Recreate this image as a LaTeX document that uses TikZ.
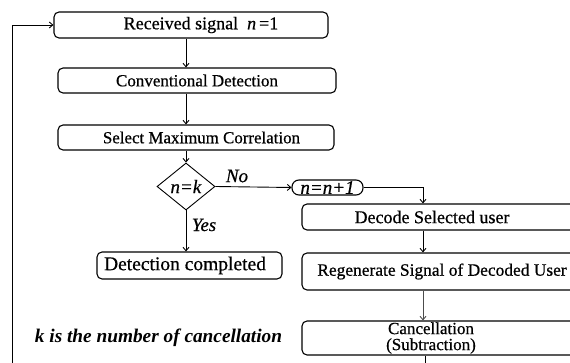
\documentclass[tikz,border=0pt]{standalone}
\usepackage{fontspec}
\setmainfont{Liberation Serif}[
  UprightFont={Liberation Serif},
  ItalicFont={Liberation Serif Italic},
  BoldFont={Liberation Serif Bold},
  BoldItalicFont={Liberation Serif Bold Italic},
  UprightFeatures={FakeBold=0.6},
  ItalicFeatures={FakeBold=0.6}]
\usetikzlibrary{arrows.meta,shapes.geometric}
\begin{document}
\begin{tikzpicture}[x=1pt,y=-1pt,
  box/.style={draw, line width=1.1pt, rounded corners=5pt, inner sep=0pt},
  txt/.style={inner sep=0pt},
  flow/.style={draw, line width=0.9pt, -{Straight Barb[length=3.5pt,width=6pt]}},
  thinflow/.style={draw=black!70, line width=0.9pt, -{Straight Barb[length=3.5pt,width=6pt]}},
  fs/.style={font=\fontsize{#1}{#1}\selectfont}]
\useasboundingbox (0,0) rectangle (570,363);
\clip (0,0) rectangle (570,363);

% left-hand column
\node[box, minimum width=274pt, minimum height=26pt, fs=18] (recv) at (191,25)
  {\hspace*{20pt}Received signal\ \ \textit{n}\,=1};
\node[box, minimum width=278pt, minimum height=25pt, fs=17] (conv) at (197,80.5)
  {Conventional Detection};
\node[box, minimum width=276pt, minimum height=25pt, fs=16.9] (sel) at (196,137.5)
  {\hspace*{11pt}Select Maximum Correlation};
\node[draw, line width=0.9pt, diamond, minimum width=58pt, minimum height=47pt,
  inner sep=0pt, fs=19] (dia) at (186,186.5) {\textit{n=k}};
\node[box, minimum width=185pt, minimum height=27pt, fs=19.5] (det) at (189.5,265.5)
  {Detection completed\hspace*{9pt}};

% right-hand column (boxes run past the right edge)
\node[box, rounded corners=7pt, minimum width=71pt, minimum height=15pt, fs=19] (inc)
  at (327.5,187.5) {\textit{n=n+1}};
\node[box, minimum width=288pt, minimum height=26pt] (dec) at (446,217) {};
\node[txt, fs=18] (dect) at (432,217) {Decode Selected user};
\node[box, minimum width=288pt, minimum height=37pt] (reg) at (446,271.5) {};
\node[txt, fs=17.4] (regt) at (442,271.5) {Regenerate Signal of Decoded User};
\node[box, minimum width=288pt, minimum height=34pt] (can) at (446,338) {};
\node[txt, fs=17, align=center] (cant) at (431,338)
  {Cancellation\\[-1pt](Subtraction)};

% free text
\node[txt, fs=19] (no) at (237,176) {\textit{No}};
\node[txt, fs=18.7] (yes) at (204,225) {\textit{Yes}};
\node[txt, fs=19.3] (note) at (158.5,338) {\textbf{\textit{k is the number of cancellation}}};

% helper points
\coordinate (colx) at (423,0);
\coordinate (loopr) at (425,370);
\coordinate (loopl) at (12,370);

% connectors
\draw[flow] (recv.south -| dia.north) -- (conv.north -| dia.north);
\draw[flow] (conv.south -| dia.north) -- (sel.north -| dia.north);
\draw[flow] (sel.south -| dia.north) -- (dia.north);
\draw[flow] (dia.south) -- (det.north -| dia.south);
\draw[flow] (dia.east) -- (inc.west);
\draw[flow] (inc.east) -| (dec.north -| colx);
\draw[flow] (dec.south -| colx) -- (reg.north -| colx);
\draw[thinflow] (reg.south -| colx) -- (can.north -| colx);
\draw[line width=0.9pt] (can.south -| loopr) -- (loopr);
\draw[flow] (loopl) |- (recv.west);
\end{tikzpicture}
\end{document}
